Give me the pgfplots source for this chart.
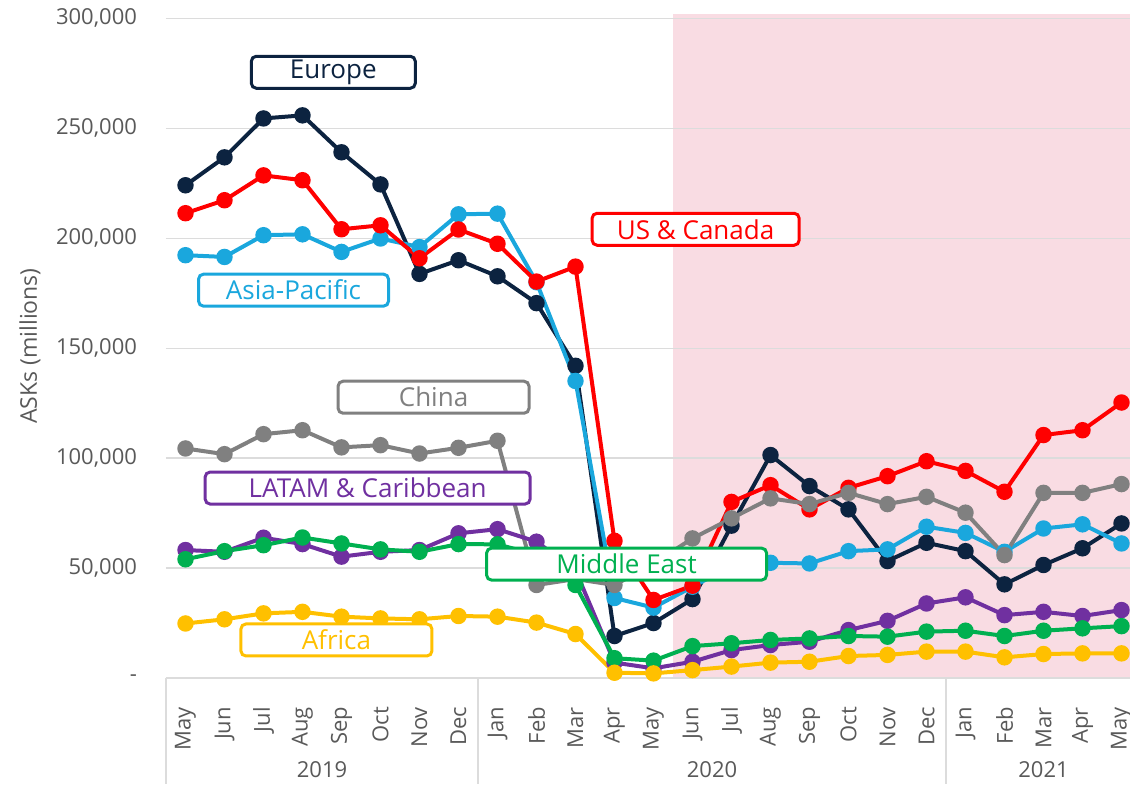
\documentclass[border=0pt]{standalone}
\usepackage{fontspec}
\setmainfont{Open Sans}
\usepackage{pgfplots}
\pgfplotsset{compat=1.18}
\usepackage{pgfplotstable}

\definecolor{eurc}{HTML}{0C2340}
\definecolor{usc}{HTML}{FF0000}
\definecolor{apc}{HTML}{1AA7DD}
\definecolor{chc}{HTML}{808080}
\definecolor{lac}{HTML}{7030A0}
\definecolor{mec}{HTML}{00B050}
\definecolor{afc}{HTML}{FFC000}
\definecolor{pinkbg}{HTML}{F9DCE3}
\definecolor{txtg}{HTML}{595959}
\definecolor{gridg}{HTML}{DCDCDC}

% values in thousands of millions (i.e. ASKs millions / 1000)
\pgfplotstableread{
idx Eur US AP China LATAM ME Africa
0 224.1 211.4 192.3 104.4 58.2 54.0 24.8
1 236.8 217.3 191.5 101.8 57.4 57.7 26.7
2 254.5 228.6 201.4 110.9 63.8 60.4 29.4
3 255.9 226.4 201.8 112.7 60.9 63.9 30.1
4 239.1 204.1 193.8 104.9 55.2 61.2 27.9
5 224.5 205.9 199.9 105.9 57.4 58.5 27.1
6 183.8 190.9 196.0 102.1 58.2 57.4 26.7
7 190.0 204.0 210.9 104.7 65.8 60.9 28.2
8 182.7 197.5 211.2 107.9 67.7 60.8 27.9
9 170.5 180.3 180.0 42.3 62.0 56.0 25.2
10 142.0 187.1 135.1 45.0 49.0 42.3 20.0
11 19.1 62.4 36.4 42.3 7.0 9.0 2.4
12 25.0 35.5 32.0 52.0 4.4 7.9 2.1
13 35.9 42.0 41.5 63.5 7.4 14.5 3.6
14 69.3 80.1 51.0 72.6 12.7 15.8 5.2
15 101.4 87.7 52.4 81.7 15.0 17.3 7.0
16 87.3 76.7 52.1 79.1 16.5 18.0 7.4
17 76.7 86.5 57.7 84.2 21.8 19.1 10.0
18 53.2 91.8 58.5 79.1 26.0 18.8 10.5
19 61.5 98.6 68.8 82.4 33.9 21.1 12.0
20 57.7 94.2 66.0 75.2 36.7 21.5 12.0
21 42.6 84.7 57.4 55.9 28.6 19.1 9.4
22 51.4 110.5 68.0 84.2 30.1 21.5 10.9
23 59.0 112.7 69.9 84.2 28.2 22.6 11.2
24 70.3 125.3 61.2 88.2 30.9 23.6 11.2
}\datatable

\tikzset{
  lbl/.style={draw=#1, text=#1, fill=white, rounded corners=2.5pt, line width=1.5pt,
    minimum height=16pt, inner sep=0pt, font=\fontsize{13}{15}\selectfont},
  ser/.style={#1, line width=2pt, mark=*, mark size=3.1pt, mark options={solid, fill=#1, draw=#1}}
}

\begin{document}
\begin{tikzpicture}
\begin{axis}[
  set layers=standard,
  scale only axis,
  width=487.5pt, height=332pt,
  xmin=-0.5, xmax=24.5,
  ymin=0, ymax=302,
  clip=false,
  axis lines*=left,
  y axis line style={draw=none},
  x axis line style={draw=gridg, line width=0.8pt},
  major tick length=0pt,
  ytick={0,50,100,150,200,250,300},
  yticklabels={-,{50,000},{100,000},{150,000},{200,000},{250,000},{300,000}},
  ymajorgrids,
  grid style={draw=gridg, line width=0.7pt},
  xtick={0,...,24},
  xticklabels={May,Jun,Jul,Aug,Sep,Oct,Nov,Dec,Jan,Feb,Mar,Apr,May,Jun,Jul,Aug,Sep,Oct,Nov,Dec,Jan,Feb,Mar,Apr,May},
  xticklabel style={rotate=90, anchor=east, text=txtg, font=\fontsize{11}{13}\selectfont, xshift=-11pt},
  yticklabel style={anchor=east, text=txtg, font=\fontsize{11}{13}\selectfont, xshift=-11pt},
]
\addplot[fill=pinkbg, draw=none, on layer=axis background, forget plot]
  coordinates {(12.5,0) (12.5,302) (24.5,302) (24.5,0)} \closedcycle;

\addplot[ser=eurc] table[x=idx, y=Eur] \datatable;
\addplot[ser=apc] table[x=idx, y=AP] \datatable;
\addplot[ser=usc] table[x=idx, y=US] \datatable;
\addplot[ser=chc] table[x=idx, y=China] \datatable;
\addplot[ser=lac] table[x=idx, y=LATAM] \datatable;
\addplot[ser=mec] table[x=idx, y=ME] \datatable;
\addplot[ser=afc] table[x=idx, y=Africa] \datatable;

\begin{pgfonlayer}{axis foreground}
\node[lbl=eurc, minimum width=82pt] at (axis cs:3.79,275.5) {Europe};
\node[lbl=usc, minimum width=103.5pt] at (axis cs:13.08,204.1) {US \& Canada};
\node[lbl=apc, minimum width=95pt] at (axis cs:2.77,176.4) {Asia-Pacific};
\node[lbl=chc, minimum width=95.5pt] at (axis cs:6.36,127.7) {China};
\node[lbl=lac, minimum width=162.5pt] at (axis cs:4.67,86.4) {LATAM \& Caribbean};
\node[lbl=mec, minimum width=140pt] at (axis cs:11.31,51.8) {Middle East};
\node[lbl=afc, minimum width=95.5pt] at (axis cs:3.87,17.3) {Africa};
\end{pgfonlayer}

\draw[gridg, line width=0.8pt] (axis cs:-0.5,0) -- ([yshift=-53pt]axis cs:-0.5,0);
\draw[gridg, line width=0.8pt] (axis cs:7.5,0) -- ([yshift=-53pt]axis cs:7.5,0);
\draw[gridg, line width=0.8pt] (axis cs:19.5,0) -- ([yshift=-53pt]axis cs:19.5,0);
\node[text=txtg, font=\fontsize{11}{13}\selectfont] at ([yshift=-46pt]axis cs:3.5,0) {2019};
\node[text=txtg, font=\fontsize{11}{13}\selectfont] at ([yshift=-46pt]axis cs:13.5,0) {2020};
\node[text=txtg, font=\fontsize{11}{13}\selectfont] at ([yshift=-46pt]axis cs:22,0) {2021};
\node[rotate=90, text=txtg, font=\fontsize{11.5}{13}\selectfont] at ([xshift=-68pt]rel axis cs:0,0.5) {ASKs (millions)};
\end{axis}
\pgfresetboundingbox
\path (current axis.south west) ++(-83pt,-53pt) rectangle ++(565pt,392pt);
\end{tikzpicture}
\end{document}
